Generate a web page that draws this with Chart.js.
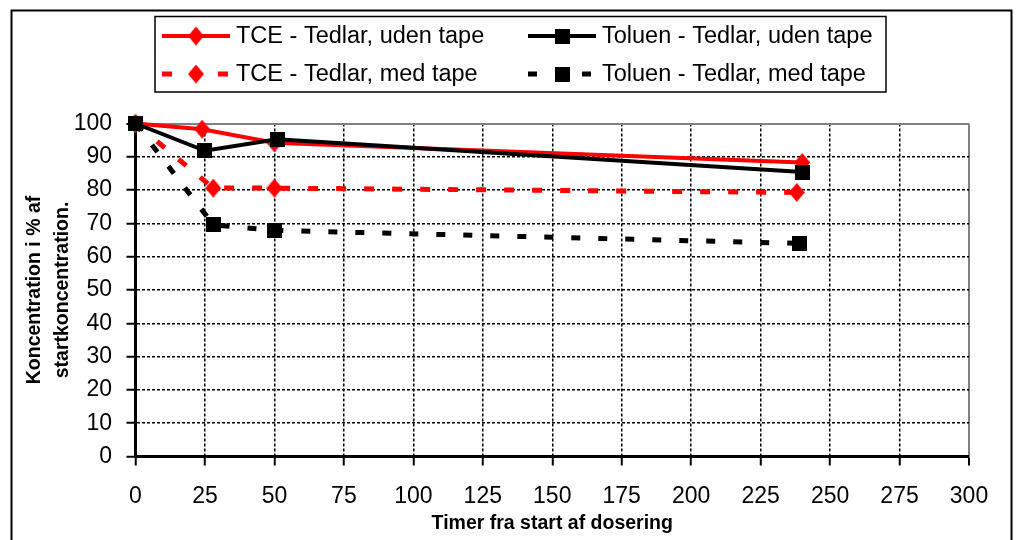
<!DOCTYPE html>
<html>
<head>
<meta charset="utf-8">
<script src="https://cdn.jsdelivr.net/npm/chart.js@4.4.1/dist/chart.umd.min.js"></script>
<style>
  html, body { margin: 0; padding: 0; background: #ffffff; }
  canvas { display: block; }
</style>
</head>
<body>
<canvas id="c" width="1017" height="540"></canvas>
<script>
// ---- data ----
const seriesLabels = [
  'TCE - Tedlar, uden tape',
  'Toluen - Tedlar, uden tape',
  'TCE - Tedlar, med tape',
  'Toluen - Tedlar, med tape'
];
const tceUdenX = [0, 24, 50, 240];
const tceUdenY = [100, 98.3, 94.2, 88.3];
const tolUdenX = [0, 25, 51, 240];
const tolUdenY = [100, 91.8, 95.3, 85.4];
const tceMedX = [0, 28, 50, 238];
const tceMedY = [100, 80.6, 80.6, 79.3];
const tolMedX = [0, 28, 50, 239];
const tolMedY = [100, 69.6, 67.9, 64.0];

const xTickValues = [0, 25, 50, 75, 100, 125, 150, 175, 200, 225, 250, 275, 300];
const yTickValues = [0, 10, 20, 30, 40, 50, 60, 70, 80, 90, 100];
const xAxisTitle = 'Timer fra start af dosering';
const yAxisTitle = ['Koncentration i % af', 'startkoncentration.'];

// ---- markers ----
function makeDiamond(color, w, h) {
  const c = document.createElement('canvas'); c.width = w; c.height = h;
  const g = c.getContext('2d'); g.fillStyle = color;
  g.beginPath(); g.moveTo(w / 2, 0); g.lineTo(w, h / 2); g.lineTo(w / 2, h); g.lineTo(0, h / 2); g.closePath(); g.fill();
  return c;
}
function makeSquare(color, s) {
  const c = document.createElement('canvas'); c.width = s; c.height = s;
  const g = c.getContext('2d'); g.fillStyle = color; g.fillRect(0, 0, s, s);
  return c;
}
const RED = '#FF0000', BLACK = '#000000';
const diamondRed = makeDiamond(RED, 16, 19);
const squareBlack = makeSquare(BLACK, 15);

const pts = (xs, ys) => xs.map((x, i) => ({ x: x, y: ys[i] }));

const FONT = "'Liberation Sans', Arial, Helvetica, sans-serif";
Chart.defaults.font.family = FONT;
Chart.defaults.color = '#000';

// datasets: earlier index is drawn on top
const datasets = [
  { label: seriesLabels[1], data: pts(tolUdenX, tolUdenY), borderColor: BLACK, backgroundColor: BLACK,
    borderWidth: 4, borderDash: [], pointStyle: squareBlack, legendPos: [1, 0] },
  { label: seriesLabels[3], data: pts(tolMedX, tolMedY), borderColor: BLACK, backgroundColor: BLACK,
    borderWidth: 5, borderDash: [9, 18], pointStyle: squareBlack, legendPos: [1, 1] },
  { label: seriesLabels[0], data: pts(tceUdenX, tceUdenY), borderColor: RED, backgroundColor: RED,
    borderWidth: 4, borderDash: [], pointStyle: diamondRed, legendPos: [0, 0] },
  { label: seriesLabels[2], data: pts(tceMedX, tceMedY), borderColor: RED, backgroundColor: RED,
    borderWidth: 5, borderDash: [10, 18], pointStyle: diamondRed, legendPos: [0, 1] }
].map(d => Object.assign(d, { pointRadius: 8, pointHoverRadius: 8, tension: 0, clip: false, fill: false }));

const frameAndLegend = {
  id: 'frameAndLegend',
  afterDraw(chart) {
    const ctx = chart.ctx;
    ctx.save();
    // outer chart border
    ctx.setLineDash([]);
    ctx.strokeStyle = '#000'; ctx.lineWidth = 2;
    ctx.strokeRect(11.5, 10.5, 1000, 600);
    // legend box
    ctx.lineWidth = 1.5;
    ctx.strokeRect(155, 16.5, 731, 75.5);
    const colBase = [162, 528];
    const rowY = [36, 74];
    chart.data.datasets.forEach(ds => {
      const base = colBase[ds.legendPos[0]];
      const y = rowY[ds.legendPos[1]];
      ctx.beginPath();
      ctx.setLineDash(ds.borderDash);
      ctx.strokeStyle = ds.borderColor;
      ctx.lineWidth = ds.borderWidth;
      ctx.moveTo(base, y); ctx.lineTo(base + 68, y);
      ctx.stroke();
      ctx.setLineDash([]);
      const m = ds.pointStyle;
      ctx.drawImage(m, base + 34 - m.width / 2, y - m.height / 2);
      ctx.fillStyle = '#000';
      ctx.font = '23.5px ' + FONT;
      ctx.textBaseline = 'middle';
      ctx.textAlign = 'left';
      ctx.fillText(ds.label, base + 74, y + 1);
    });
    ctx.restore();
  }
};

const gridColor = (maxV) => (c) => (c.tick && c.tick.value === maxV) ? '#808080' : '#000';
const gridDash = (maxV) => (c) => (c.tick && c.tick.value === maxV) ? [] : [3, 2];
const gridWidth = (maxV) => (c) => (c.tick && c.tick.value === maxV) ? 2 : 1.5;

new Chart(document.getElementById('c'), {
  type: 'line',
  data: { datasets: datasets },
  options: {
    responsive: false,
    animation: false,
    events: [],
    layout: { padding: { left: 12, top: 123.5, right: 48, bottom: 0 } },
    plugins: { legend: { display: false }, tooltip: { enabled: false } },
    scales: {
      x: {
        type: 'linear', min: 0, max: 300,
        afterFit: s => { s.height = 83.5; },
        afterBuildTicks: s => { s.ticks = xTickValues.map(v => ({ value: v })); },
        ticks: { padding: 17, font: { size: 23 }, color: '#000', maxRotation: 0, autoSkip: false },
        grid: { color: gridColor(300), lineWidth: gridWidth(300), tickColor: '#000', tickWidth: 2, tickLength: 9 },
        border: { color: '#000', width: 3, dash: gridDash(300) },
        title: { display: true, text: xAxisTitle, color: '#000',
                 font: { size: 19.5, weight: 'bold', lineHeight: 1.2 }, padding: { top: 0, bottom: 4.5 } }
      },
      y: {
        type: 'linear', min: 0, max: 100,
        afterFit: s => { s.width = 123.5; },
        afterBuildTicks: s => { s.ticks = yTickValues.map(v => ({ value: v })); },
        ticks: { padding: 14.5, font: { size: 23 }, color: '#000', autoSkip: false },
        grid: { color: gridColor(100), lineWidth: gridWidth(100), tickColor: '#000', tickWidth: 2, tickLength: 9 },
        border: { color: '#000', width: 3, dash: gridDash(100) },
        title: { display: true, text: yAxisTitle, color: '#000',
                 font: { size: 19.5, weight: 'bold', lineHeight: 1.44 }, padding: { top: 9, bottom: 0 } }
      }
    }
  },
  plugins: [frameAndLegend]
});
</script>
</body>
</html>
